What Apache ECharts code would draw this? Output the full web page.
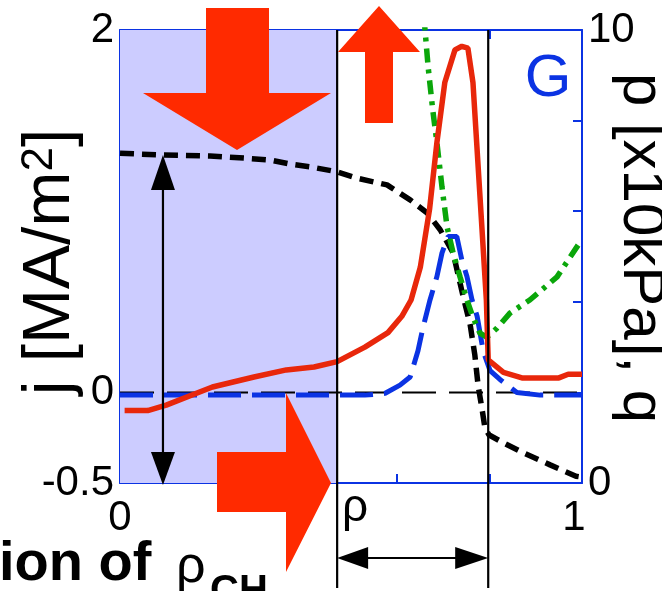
<!DOCTYPE html>
<html>
<head>
<meta charset="utf-8">
<script src="https://cdn.jsdelivr.net/npm/echarts@6/dist/echarts.min.js"></script>
<style>
  html, body { margin: 0; padding: 0; background: #fff; overflow: hidden; }
  #chart { width: 662px; height: 591px; }
</style>
</head>
<body>
<div id="chart"></div>
<script>
// Normalised minor radius rho (x) for every profile
const rhoJ = [0.01, 0.06, 0.10, 0.20, 0.29, 0.36, 0.42, 0.47, 0.53, 0.58, 0.61, 0.63, 0.65, 0.67, 0.686, 0.703, 0.725, 0.74, 0.753, 0.764, 0.793, 0.797, 0.83, 0.87, 0.95, 0.97, 1.0];
// Current density j [MA/m^2] (solid red)
const currentJ = [-0.10, -0.10, -0.07, 0.03, 0.085, 0.124, 0.14, 0.17, 0.25, 0.33, 0.42, 0.51, 0.69, 1.01, 1.38, 1.71, 1.89, 1.91, 1.90, 1.71, 0.51, 0.18, 0.11, 0.08, 0.08, 0.10, 0.10];

const rhoB = [0, 0.53, 0.574, 0.606, 0.628, 0.645, 0.656, 0.671, 0.686, 0.697, 0.710, 0.729, 0.740, 0.751, 0.762, 0.773, 0.786, 0.801, 0.823, 0.859, 0.909, 1.0];
// Bootstrap current density [MA/m^2] (blue dashed)
const bootstrapJ = [-0.015, -0.015, -0.005, 0.04, 0.085, 0.23, 0.36, 0.51, 0.64, 0.77, 0.86, 0.86, 0.73, 0.64, 0.51, 0.42, 0.23, 0.12, 0.07, 0.0, -0.015, -0.015];

const rhoP = [0, 0.093, 0.195, 0.271, 0.325, 0.368, 0.411, 0.470, 0.513, 0.578, 0.628, 0.665, 0.693, 0.721, 0.742, 0.758, 0.768, 0.775, 0.784, 0.790, 0.799, 0.831, 0.870, 0.931, 0.987, 1.0];
// Pressure p [x10 kPa] (black dashed, right axis)
const pressure = [7.28, 7.24, 7.22, 7.17, 7.13, 7.04, 6.98, 6.87, 6.73, 6.58, 6.25, 5.96, 5.59, 5.08, 4.15, 3.49, 2.83, 2.16, 1.61, 1.21, 1.06, 0.88, 0.68, 0.40, 0.15, 0.13];

const rhoQ = [0.652, 0.667, 0.677, 0.686, 0.697, 0.708, 0.721, 0.736, 0.751, 0.764, 0.779, 0.794, 0.816, 0.844, 0.887, 0.946, 0.996];
// Safety factor q (green dash-dot, right axis)
const safetyQ = [11.0, 9.18, 8.23, 7.51, 6.53, 5.65, 5.08, 4.55, 4.04, 3.66, 3.31, 3.22, 3.42, 3.75, 4.04, 4.55, 5.32];

// Reference line j = 0
const rhoZero = [0, 1];
const zeroLine = [0, 0];

// Region boundaries in rho
const rhoInner = 0.470;   // edge of the shaded core region
const rhoOuter = 0.797;   // outer boundary
const rhoCoreMark = 0.093; // position of the vertical double arrow

// Axis tick labels that are printed
const xTickLabels = [0, 1];
const jTickLabels = [-0.5, 0, 2];
const pTickLabels = [0, 10];

const AXIS_BLUE = '#0b33e3';
const RED = '#e8270b';
const ARROW_RED = '#ff2a00';
const FONT = 'Liberation Sans, Arial, Helvetica, sans-serif';

const zip = (xs, ys) => xs.map((x, i) => [x, ys[i]]);

const chart = echarts.init(document.getElementById('chart'), null, { renderer: 'canvas' });

const axisLine = { show: true, onZero: false, lineStyle: { color: AXIS_BLUE, width: 2 } };
const axisTick = { show: true, inside: true, length: 9, lineStyle: { color: AXIS_BLUE, width: 2 } };
const labelBase = { color: '#000', fontSize: 42, fontFamily: FONT };

chart.setOption({
  animation: false,
  backgroundColor: '#fff',
  grid: { left: 120, right: 80, top: 30, bottom: 108, containLabel: false, outerBoundsMode: 'none' },
  xAxis: [
    {
      type: 'value', position: 'bottom', min: 0, max: 1, interval: 0.2,
      axisLine, axisTick, splitLine: { show: false },
      axisLabel: Object.assign({}, labelBase, {
        margin: 14,
        formatter: v => xTickLabels.includes(v) ? (v === 1 ? '{r|1}' : String(v)) : '',
        rich: { r: { fontSize: 42, fontFamily: FONT, color: '#000', padding: [0, 16, 0, 0] } }
      })
    },
    {
      type: 'value', position: 'top', min: 0, max: 1, interval: 0.2,
      axisLine, axisTick, splitLine: { show: false }, axisLabel: { show: false }
    }
  ],
  yAxis: [
    {
      type: 'value', position: 'left', min: -0.5, max: 2, interval: 0.5,
      axisLine, axisTick, splitLine: { show: false },
      axisLabel: Object.assign({}, labelBase, {
        margin: 6,
        formatter: v => jTickLabels.includes(v) ? String(v) : ''
      })
    },
    {
      type: 'value', position: 'right', min: 0, max: 10, interval: 2,
      axisLine, axisTick, splitLine: { show: false },
      axisLabel: Object.assign({}, labelBase, {
        margin: 6,
        formatter: v => pTickLabels.includes(v) ? String(v) : ''
      })
    }
  ],
  series: [
    {
      name: 'j = 0', type: 'line', xAxisIndex: 0, yAxisIndex: 0,
      data: zip(rhoZero, zeroLine), showSymbol: false, silent: true, z: 2,
      lineStyle: { color: '#000', width: 2, type: [34, 13] },
      markArea: {
        silent: true,
        itemStyle: { color: '#ccccff' },
        data: [[{ xAxis: 0 }, { xAxis: rhoInner }]]
      }
    },
    {
      name: 'j_BS', type: 'line', xAxisIndex: 0, yAxisIndex: 0,
      data: zip(rhoB, bootstrapJ), showSymbol: false, z: 3,
      lineStyle: { color: AXIS_BLUE, width: 5, type: [33, 11] }
    },
    {
      name: 'p', type: 'line', xAxisIndex: 0, yAxisIndex: 1,
      data: zip(rhoP, pressure), showSymbol: false, z: 4,
      lineStyle: { color: '#000', width: 5.5, type: [14, 8] }
    },
    {
      name: 'q', type: 'line', xAxisIndex: 0, yAxisIndex: 1, clip: true,
      data: zip(rhoQ, safetyQ), showSymbol: false, z: 5,
      lineStyle: { color: '#0aa60a', width: 5.5, type: [14, 7, 4, 7] }
    },
    {
      name: 'j', type: 'line', xAxisIndex: 0, yAxisIndex: 0,
      data: zip(rhoJ, currentJ), showSymbol: false, z: 6,
      lineStyle: { color: RED, width: 5.5 }
    }
  ]
});

// Annotations placed from axis coordinates
const toPx = (x, y, yi) => chart.convertToPixel({ xAxisIndex: 0, yAxisIndex: yi || 0 }, [x, y]);
const xIn = toPx(rhoInner, 0)[0];
const xOut = toPx(rhoOuter, 0)[0];
const yTop = toPx(0, 2)[1];
const yBot = toPx(0, -0.5)[1];
const xCore = toPx(rhoCoreMark, 0)[0];
const yCoreTop = toPx(rhoCoreMark, pressure[1], 1)[1];
const yWidth = 558;

const black = { stroke: '#000', lineWidth: 2.2 };
const g = [];
// vertical boundary lines
g.push({ type: 'line', z: 50, shape: { x1: xIn, y1: yTop, x2: xIn, y2: 588 }, style: black });
g.push({ type: 'line', z: 50, shape: { x1: xOut, y1: yTop, x2: xOut, y2: 588 }, style: black });
// horizontal double arrow between the boundaries
g.push({ type: 'line', z: 50, shape: { x1: xIn + 20, y1: yWidth, x2: xOut - 20, y2: yWidth }, style: black });
g.push({ type: 'polygon', z: 50, shape: { points: [[xIn, yWidth], [xIn + 31, yWidth - 11], [xIn + 31, yWidth + 11]] }, style: { fill: '#000' } });
g.push({ type: 'polygon', z: 50, shape: { points: [[xOut, yWidth], [xOut - 33, yWidth - 11], [xOut - 33, yWidth + 11]] }, style: { fill: '#000' } });
// vertical double arrow in the core
g.push({ type: 'line', z: 50, shape: { x1: xCore, y1: yCoreTop + 20, x2: xCore, y2: yBot - 20 }, style: black });
g.push({ type: 'polygon', z: 50, shape: { points: [[xCore, yCoreTop], [xCore - 12, yCoreTop + 35], [xCore + 12, yCoreTop + 35]] }, style: { fill: '#000' } });
g.push({ type: 'polygon', z: 50, shape: { points: [[xCore, yBot + 2], [xCore - 12, yBot - 31], [xCore + 12, yBot - 31]] }, style: { fill: '#000' } });
// large red block arrows
g.push({ type: 'polygon', z: 60, shape: { points: [[206, 8], [269, 8], [269, 93], [331, 93], [237, 150], [143, 93], [206, 93]] }, style: { fill: ARROW_RED } });
g.push({ type: 'polygon', z: 60, shape: { points: [[379, 6], [420, 52], [393, 52], [393, 123], [365, 123], [365, 52], [338, 52]] }, style: { fill: ARROW_RED } });
g.push({ type: 'polygon', z: 60, shape: { points: [[217, 452], [286, 452], [286, 393], [331, 483], [286, 572], [286, 512], [217, 512]] }, style: { fill: ARROW_RED } });
// texts
g.push({ type: 'text', z: 70, x: 548, y: 79, style: { text: 'G', fontSize: 60, fontFamily: FONT, fill: AXIS_BLUE, align: 'center', verticalAlign: 'middle' } });
g.push({ type: 'text', z: 70, x: 342, y: 508, style: { text: 'ρ', fontSize: 46, fontFamily: FONT, fill: '#000', align: 'left', verticalAlign: 'middle' } });
g.push({ type: 'text', z: 70, x: 51, y: 262, rotation: Math.PI / 2, style: {
  text: 'j [MA/m{sup|2}]', fontSize: 66, fontFamily: FONT, fill: '#000', align: 'center', verticalAlign: 'middle',
  rich: { sup: { fontSize: 44, fontFamily: FONT, fill: '#000', verticalAlign: 'top' } }
} });
g.push({ type: 'text', z: 70, x: 641, y: 248, rotation: -Math.PI / 2, style: {
  text: 'p [x10kPa], q', fontSize: 60, fontFamily: FONT, fill: '#000', align: 'center', verticalAlign: 'middle'
} });
g.push({ type: 'text', z: 70, x: -1, y: 565, style: { text: 'ion of', fontSize: 56, fontWeight: 'bold', fontFamily: FONT, fill: '#000', align: 'left', verticalAlign: 'middle' } });
g.push({ type: 'text', z: 70, x: 176, y: 568, style: { text: 'ρ', fontSize: 52, fontFamily: FONT, fill: '#000', align: 'left', verticalAlign: 'middle' } });
g.push({ type: 'text', z: 70, x: 210, y: 592, style: { text: 'CH', fontSize: 40, fontWeight: 'bold', fontFamily: FONT, fill: '#000', align: 'left', verticalAlign: 'middle' } });

chart.setOption({ graphic: g });
</script>
</body>
</html>
